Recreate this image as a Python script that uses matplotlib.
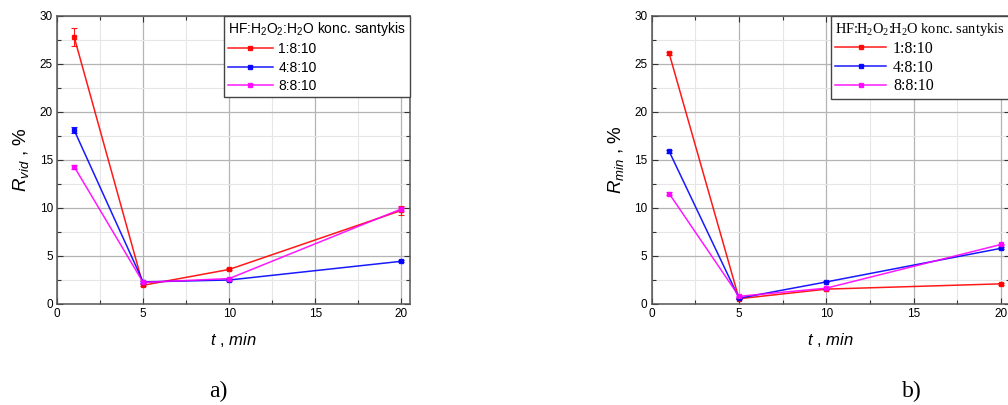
import matplotlib
matplotlib.use("Agg")
import matplotlib.pyplot as plt
from matplotlib.ticker import MultipleLocator

plt.rcParams['font.family'] = ['Liberation Sans', 'DejaVu Sans']
plt.rcParams['mathtext.fontset'] = 'custom'
plt.rcParams['mathtext.rm'] = 'Liberation Sans'
plt.rcParams['mathtext.it'] = 'Liberation Sans:italic'

# laikas, min
t = [1, 5, 10, 20]
serijos = ["1:8:10", "4:8:10", "8:8:10"]
spalvos = ["#ff0000", "#0000ff", "#ff00ff"]

# a) R_vid
r_vid_1 = [27.8, 1.95, 3.6, 9.75]
r_vid_4 = [18.1, 2.3, 2.5, 4.45]
r_vid_8 = [14.3, 2.25, 2.65, 9.9]
err_vid_1 = [0.95, 0.1, 0.1, 0.45]
err_vid_4 = [0.3, 0.1, 0.1, 0.1]
err_vid_8 = [0.2, 0.1, 0.1, 0.2]

# b) R_min
r_min_1 = [26.1, 0.55, 1.55, 2.1]
r_min_4 = [15.9, 0.6, 2.3, 5.8]
r_min_8 = [11.5, 0.8, 1.65, 6.2]
err_min_1 = [0.15, 0.05, 0.05, 0.1]
err_min_4 = [0.15, 0.05, 0.05, 0.1]
err_min_8 = [0.15, 0.05, 0.05, 0.1]

legendos_pav = "HF:H$\\mathregular{_2}$O$\\mathregular{_2}$:H$\\mathregular{_2}$O konc. santykis"


def dibujar(ax, reiksmes, klaidos, ylabel, sriftas, dydis, pav_dydis, tarpas):
    for y, e, c, lab in zip(reiksmes, klaidos, spalvos, serijos):
        ax.errorbar(t, y, yerr=e, fmt="none", ecolor=c, capsize=2.5,
                    elinewidth=0.8, capthick=0.8, alpha=0.9)
        ax.plot(t, y, color=c, lw=1.1, marker="s", ms=3, label=lab, alpha=0.9)
    ax.set_xlim(0, 20.5)
    ax.set_ylim(0, 30)
    ax.xaxis.set_major_locator(MultipleLocator(5))
    ax.xaxis.set_minor_locator(MultipleLocator(2.5))
    ax.yaxis.set_major_locator(MultipleLocator(5))
    ax.yaxis.set_minor_locator(MultipleLocator(2.5))
    ax.grid(which="major", color="#b4b4b4", lw=0.9)
    ax.grid(which="minor", color="#e6e6e6", lw=0.8)
    ax.set_axisbelow(True)
    ax.tick_params(which="both", direction="in", top=True, right=True,
                   labelsize=8.5, color="#333333", width=0.8, pad=3)
    ax.tick_params(which="major", length=4)
    ax.tick_params(which="minor", length=3)
    for s in ax.spines.values():
        s.set_color("#555555")
        s.set_linewidth(1.1)
    ax.set_xlabel("$\\mathit{t}$ , $\\mathit{min}$", fontsize=12, labelpad=8)
    ax.set_ylabel(ylabel, fontsize=13.5, labelpad=6)
    leg = ax.legend(title=legendos_pav, loc="upper right", borderaxespad=0,
                    fancybox=False, edgecolor="#444444", framealpha=1,
                    handlelength=3.2, handletextpad=0.4, borderpad=0.3,
                    labelspacing=tarpas, prop={"family": sriftas, "size": dydis},
                    title_fontproperties={"family": sriftas, "size": pav_dydis})
    leg.get_frame().set_linewidth(1.0)
    leg._legend_box.align = "left"


fig = plt.figure(figsize=(10.08, 4.05), dpi=100)
ax1 = fig.add_axes([57 / 1008, 1 - 304 / 405, 353 / 1008, 288 / 405])
ax2 = fig.add_axes([651.7 / 1008, 1 - 304 / 405, 358 / 1008, 288 / 405])

dibujar(ax1, [r_vid_1, r_vid_4, r_vid_8], [err_vid_1, err_vid_4, err_vid_8],
        "$\\mathit{R}_{\\mathit{vid}}$ , %", "Liberation Sans", 10, 10, 0.3)
dibujar(ax2, [r_min_1, r_min_4, r_min_8], [err_min_1, err_min_4, err_min_8],
        "$\\mathit{R}_{\\mathit{min}}$ , %", "Liberation Serif", 11.5, 10.4, 0.18)

fig.text(218 / 1008, 1 - 391 / 405, "a)", family="Liberation Serif", fontsize=17,
         ha="center", va="center")
fig.text(912 / 1008, 1 - 391 / 405, "b)", family="Liberation Serif", fontsize=17,
         ha="center", va="center")

fig.savefig("out.png", dpi=100)
